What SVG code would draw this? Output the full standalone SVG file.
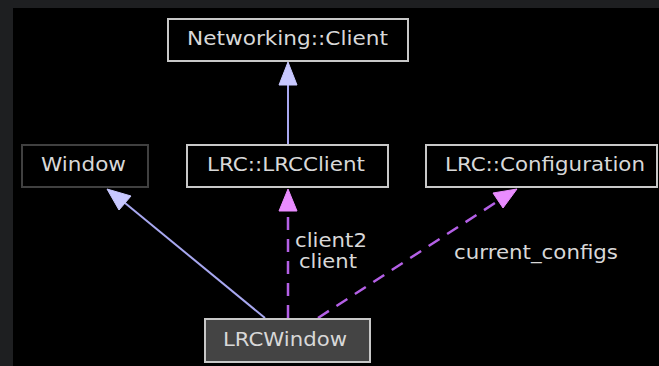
<svg xmlns="http://www.w3.org/2000/svg" width="659" height="366" viewBox="0 0 659 366">
<style>
.box{fill:#000;stroke:#c8c8c8;stroke-width:2}
.dim{fill:#000;stroke:#404040;stroke-width:2}
.sel{fill:#444;stroke:#c8c8c8;stroke-width:2}
text{font-family:"DejaVu Sans",sans-serif;font-size:19px;fill:#d8d8d8}
.c{text-anchor:middle}
.inh{stroke:#a8a8f0;stroke-width:2;fill:none}
.inhh{fill:#c8c8ff;stroke:#c8c8ff}
.use{stroke:#b460e6;stroke-width:2.5;fill:none;stroke-dasharray:13 9}
.useh{fill:#e98cff;stroke:#e98cff}
</style>
<rect x="0" y="0" width="659" height="366" fill="#1e1f21"/>
<rect x="13" y="8" width="646" height="358" fill="#000"/>
<g id="connectors">
<line class="inh" x1="288" y1="144" x2="288" y2="84"/>
<polygon class="inhh" points="288,62 279,85 297,85"/>
<line class="inh" x1="265" y1="318" x2="125" y2="203"/>
<polygon class="inhh" points="107,189 119,210 131,196"/>
<line class="use" x1="288" y1="318" x2="288" y2="210"/>
<polygon class="useh" points="288,189 279,211 297,211"/>
<line class="use" x1="318" y1="318" x2="498" y2="201"/>
<polygon class="useh" points="517,189 493,193 503,208"/>
<text x="295" y="247" textLength="72" lengthAdjust="spacingAndGlyphs">client2</text>
<text x="299" y="268" textLength="58" lengthAdjust="spacingAndGlyphs">client</text>
<text x="454" y="259" textLength="164" lengthAdjust="spacingAndGlyphs">current_configs</text>
</g>
<g id="networking-client">
<rect class="box" x="168" y="19" width="240" height="42"/>
<text x="187" y="45" textLength="201" lengthAdjust="spacingAndGlyphs">Networking::Client</text>
</g>
<g id="window">
<rect class="dim" x="22" y="145" width="126" height="42"/>
<text x="41" y="171" textLength="85" lengthAdjust="spacingAndGlyphs">Window</text>
</g>
<g id="lrc-client">
<rect class="box" x="187" y="145" width="201" height="42"/>
<text x="207" y="171" textLength="158" lengthAdjust="spacingAndGlyphs">LRC::LRCClient</text>
</g>
<g id="lrc-configuration">
<rect class="box" x="426" y="145" width="231" height="42"/>
<text x="445" y="171" textLength="200" lengthAdjust="spacingAndGlyphs">LRC::Configuration</text>
</g>
<g id="lrc-window">
<rect class="sel" x="205" y="319" width="165" height="43"/>
<text x="223" y="346" textLength="124" lengthAdjust="spacingAndGlyphs">LRCWindow</text>
</g>
</svg>
